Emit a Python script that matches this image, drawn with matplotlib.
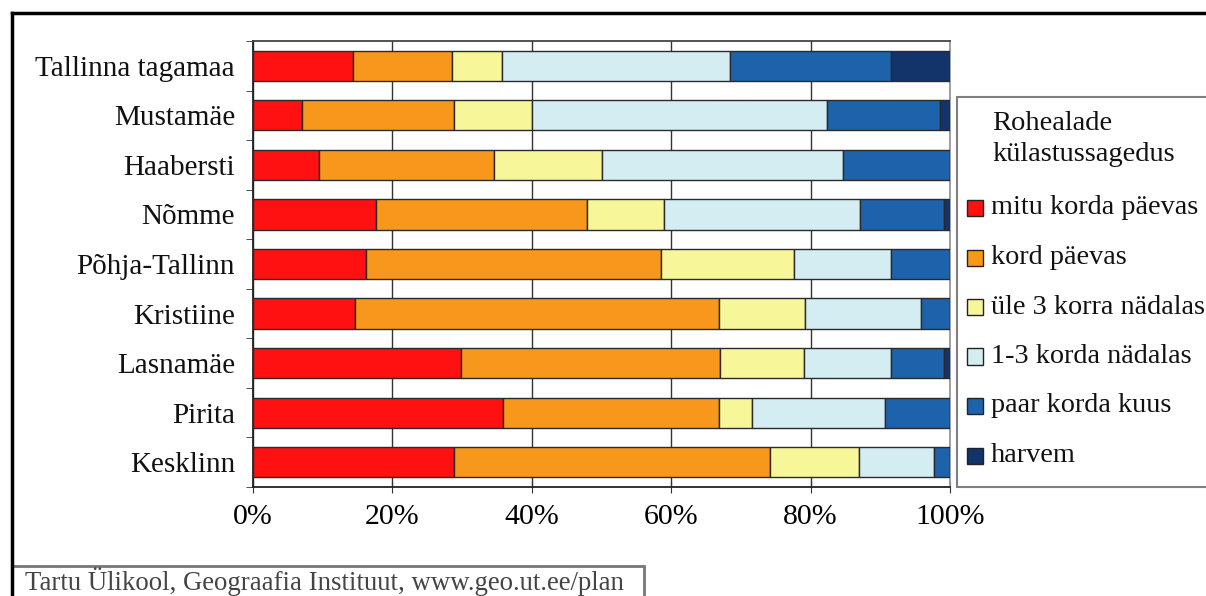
import numpy as np
import matplotlib.pyplot as plt
from matplotlib.patches import Rectangle
from matplotlib.lines import Line2D

plt.rcParams['font.family'] = ['Liberation Serif', 'DejaVu Serif']

# linnaosad ülevalt alla
piirkonnad = ['Tallinna tagamaa', 'Mustamäe', 'Haabersti', 'Nõmme', 'Põhja-Tallinn',
              'Kristiine', 'Lasnamäe', 'Pirita', 'Kesklinn']
sagedused = ['mitu korda päevas', 'kord päevas', 'üle 3 korra nädalas',
             '1-3 korda nädalas', 'paar korda kuus', 'harvem']

# osakaalud (%)
mitu_korda_paevas = [14.3, 7.1, 9.5, 17.7, 16.2, 14.6, 29.9, 35.8, 28.8]
kord_paevas = [14.3, 21.7, 25.1, 30.2, 42.3, 52.2, 37.1, 31.0, 45.4]
ule_3_korra = [7.1, 11.2, 15.4, 11.0, 19.1, 12.4, 12.0, 4.8, 12.7]
korda_1_3 = [32.8, 42.4, 34.7, 28.2, 14.0, 16.7, 12.6, 19.1, 10.8]
paar_korda_kuus = [23.0, 16.1, 15.3, 12.0, 8.4, 4.1, 7.5, 9.3, 2.3]
harvem = [8.5, 1.5, 0.0, 0.9, 0.0, 0.0, 0.9, 0.0, 0.0]

xticks = [0, 20, 40, 60, 80, 100]
xticklabels = ['0%', '20%', '40%', '60%', '80%', '100%']

varvid = ['#FF1111', '#F7981C', '#F7F79A', '#D3EDF2', '#1C63AC', '#13336B']

W, H = 1206, 596
def fx(px):
    return px / W
def fy(py):
    return 1 - py / H

fig = plt.figure(figsize=(W / 100, H / 100), dpi=100)
ax = fig.add_axes([fx(253), fy(487), fx(950) - fx(253), fy(41) - fy(487)])

seeriad = [mitu_korda_paevas, kord_paevas, ule_3_korra, korda_1_3, paar_korda_kuus, harvem]
y = np.arange(len(piirkonnad))
vasak = np.zeros(len(piirkonnad))
for vaartused, varv, nimi in zip(seeriad, varvid, sagedused):
    vaartused = np.array(vaartused)
    ax.barh(y, vaartused, left=vasak, height=0.61, color=varv,
            edgecolor='#2a2a2a', linewidth=1, label=nimi, zorder=3)
    vasak += vaartused

ax.set_xlim(0, 100)
ax.set_ylim(len(piirkonnad) - 0.5, -0.5)
ax.set_xticks(xticks)
ax.set_xticklabels(xticklabels, fontsize=21.5)
ax.set_yticks(y)
ax.set_yticklabels(piirkonnad, fontsize=21, color='#111111')
ax.set_yticks(np.arange(-0.5, len(piirkonnad)), minor=True)
ax.tick_params(axis='y', which='major', length=0, pad=13)
ax.tick_params(axis='y', which='minor', length=5, direction='out', color='#333333')
ax.tick_params(axis='x', length=9, direction='inout', color='#333333', pad=8)
ax.grid(axis='x', color='#333333', linewidth=1, zorder=1)
ax.set_axisbelow(True)
for s, c in [('left', '#222222'), ('bottom', '#222222'), ('top', '#444444'), ('right', '#999999')]:
    ax.spines[s].set_color(c)
    ax.spines[s].set_linewidth(1.3)

# legend
fig.add_artist(Rectangle((fx(957), fy(487)), fx(1225) - fx(957), fy(97) - fy(487),
                         facecolor='white', edgecolor='#808080', linewidth=1.5,
                         transform=fig.transFigure))
fig.text(fx(992), fy(123), 'Rohealade', fontsize=20.5, va='center', ha='left', color='#111111')
fig.text(fx(992), fy(155), 'külastussagedus', fontsize=20.5, va='center', ha='left', color='#111111')
for i, (nimi, varv) in enumerate(zip(sagedused, varvid)):
    yc = 208 + i * 49.5
    fig.add_artist(Rectangle((fx(967), fy(yc + 8)), fx(983) - fx(967), fy(yc - 8) - fy(yc + 8),
                             facecolor=varv, edgecolor='#222222', linewidth=1,
                             transform=fig.transFigure))
    fig.text(fx(991), fy(yc), nimi, fontsize=20.3, va='center', ha='left', color='#111111')

# raam ja allikas
fig.add_artist(Line2D([fx(12), fx(1210)], [fy(13), fy(13)], color='black', linewidth=2.5,
                      transform=fig.transFigure))
fig.add_artist(Line2D([fx(12), fx(12)], [fy(13), fy(600)], color='black', linewidth=2.5,
                      transform=fig.transFigure))
fig.add_artist(Rectangle((fx(12), fy(610)), fx(644) - fx(12), fy(566) - fy(610),
                         facecolor='none', edgecolor='#777777', linewidth=2,
                         transform=fig.transFigure))
fig.text(fx(25), fy(590), 'Tartu Ülikool, Geograafia Instituut, www.geo.ut.ee/plan',
         fontsize=19.3, va='baseline', ha='left', color='#444444')

fig.savefig('out.png', dpi=100)
